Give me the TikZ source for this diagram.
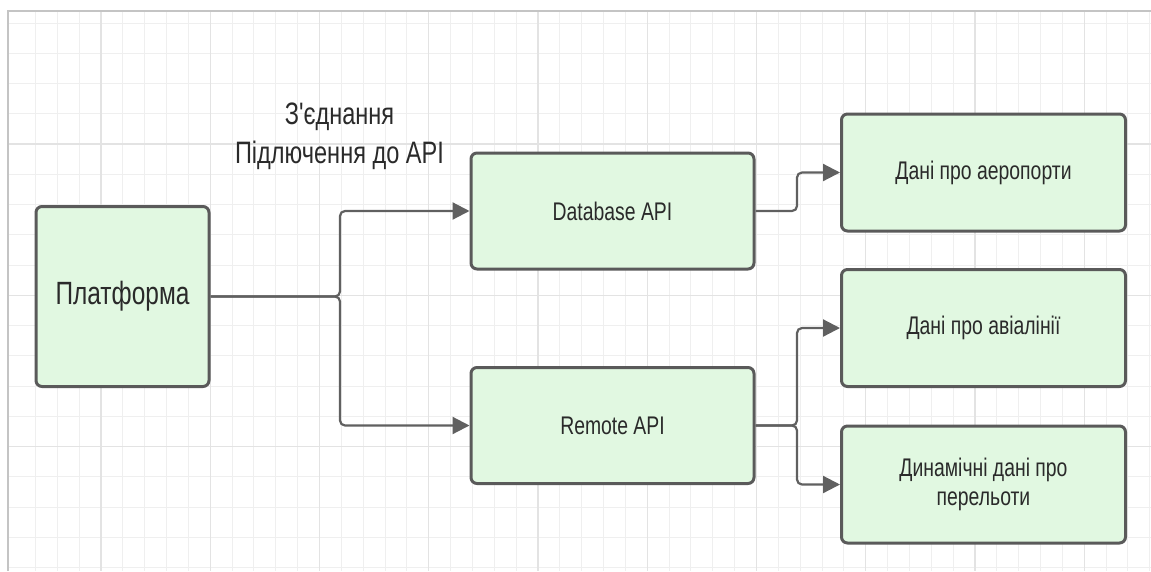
\documentclass[tikz,border=0pt]{standalone}
\usepackage{fontspec}
\newfontfamily\labfont{Liberation Sans}[FakeStretch=0.76]
\usetikzlibrary{arrows.meta}
\definecolor{gridminor}{HTML}{EFEFEF}
\definecolor{gridmajor}{HTML}{E3E3E3}
\definecolor{framegray}{HTML}{C4C4C4}
\definecolor{boxfill}{HTML}{E1F8E1}
\definecolor{boxline}{HTML}{5A5A5A}
\definecolor{wire}{HTML}{606060}
\definecolor{ink}{HTML}{2A2A2A}

\begin{document}
\begin{tikzpicture}[x=1pt,y=-1pt,
  box/.style={draw=boxline, line width=3pt, fill=boxfill, rounded corners=6pt,
    inner sep=0pt, text=ink, align=center,
    font=\labfont\fontsize{25.5}{28.5}\selectfont},
  conn/.style={draw=wire, line width=2.2pt, rounded corners=5pt,
    -{Triangle[length=17pt,width=17pt]}},
  heading/.style={text=ink, font=\labfont\fontsize{31}{38}\selectfont,
    inner sep=0pt, anchor=base}]
\useasboundingbox (0,0) rectangle (1151,571);
\fill[white] (0,0) rectangle (1151,571);

% background grid
\begin{scope}
  \clip (8,11) rectangle (1151,571);
  \foreach \k in {1,...,52}
    \draw[gridminor, line width=1pt] ({13.6+21.85*\k},11) -- ++(0,560);
  \foreach \k in {0,...,18}
    \draw[gridminor, line width=1pt] (8,{23+30.25*\k}) -- (1151,{23+30.25*\k});
  \foreach \k in {4,9,...,49}
    \draw[gridmajor, line width=1.2pt] ({13.6+21.85*\k},11) -- ++(0,560);
  \foreach \k in {4,9,14}
    \draw[gridmajor, line width=1.2pt] (8,{23+30.25*\k}) -- (1151,{23+30.25*\k});
\end{scope}
\draw[framegray, line width=1.2pt] (8,571) -- (8,11) -- (1151,11);

% boxes
\node[box, minimum width=173pt, minimum height=180pt,
      font=\labfont\fontsize{32.2}{36}\selectfont] (plat) at (122.5,296.5) {Платформа};
\node[box, minimum width=283pt, minimum height=116pt] (dbapi) at (612.5,211) {Database API};
\node[box, minimum width=283pt, minimum height=116pt] (remapi) at (612.5,425.5) {Remote API};
\node[box, minimum width=284pt, minimum height=117pt] (airports) at (983.5,172.5) {Дані про аеропорти};
\node[box, minimum width=284pt, minimum height=117pt] (airlines) at (983.5,328) {Дані про авіалінії};
\node[box, minimum width=284pt, minimum height=117pt] (flights) at (983.5,484.5) {Динамічні дані про\\перельоти};

% heading above the first fork
\node[heading] (title1) at (339.5,124) {З'єднання};
\node[heading] (title2) at (339.5,163) {Підлючення до API};

% connectors
\coordinate (fork1) at (340,296.5);
\coordinate (fork2) at (797,211);
\coordinate (fork3) at (797,425.5);
\draw[conn] (plat.east) -- (fork1) |- (dbapi.west);
\draw[conn] (plat.east) -- (fork1) |- (remapi.west);
\draw[conn] (dbapi.east) -- (fork2) |- (airports.west);
\draw[conn] (remapi.east) -- (fork3) |- (airlines.west);
\draw[conn] (remapi.east) -- (fork3) |- (flights.west);
\end{tikzpicture}
\end{document}
